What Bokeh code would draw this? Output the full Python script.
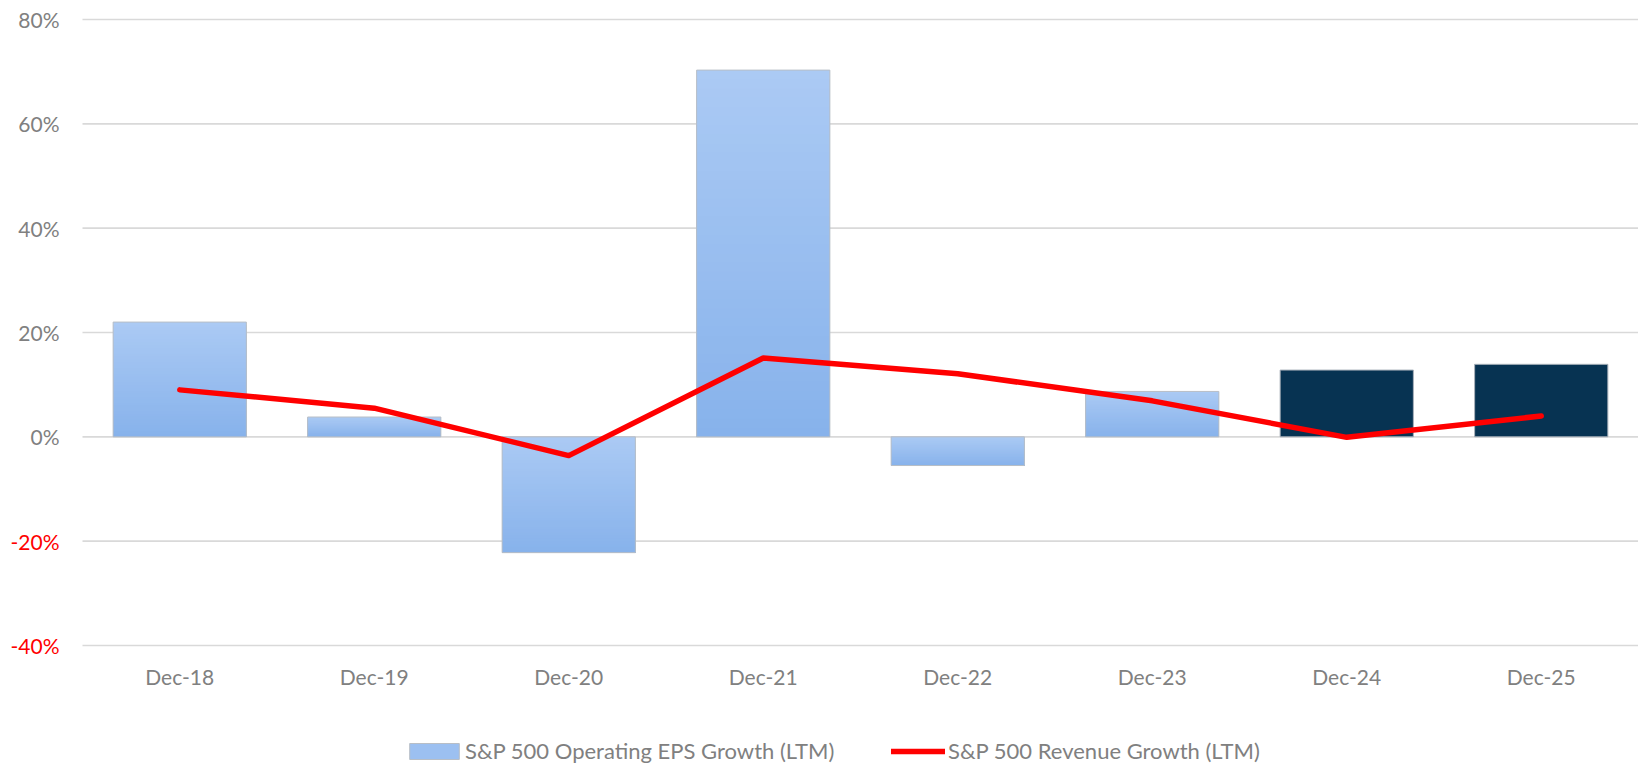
from bokeh.plotting import figure
from bokeh.models import Range1d, Legend, LegendItem
from bokeh.core.properties import value
from bokeh.embed import file_html
from bokeh.resources import INLINE

categories = ["Dec-18", "Dec-19", "Dec-20", "Dec-21", "Dec-22", "Dec-23", "Dec-24", "Dec-25"]
eps_growth = [22.0, 3.8, -22.2, 70.3, -5.5, 8.7, 12.8, 13.9]
revenue_growth = [9.0, 5.5, -3.6, 15.1, 12.1, 6.9, -0.1, 4.0]
is_estimate = [False, False, False, False, False, False, True, True]
yticks = [-40, -20, 0, 20, 40, 60, 80]
ytick_labels = ["-40%", "-20%", "0%", "20%", "40%", "60%", "80%"]

FONT = "Lato"
GRAY = "#808080"
LIGHT = (0xAB, 0xCA, 0xF4)
DARK = (0x87, 0xB2, 0xEB)
NAVY = "#073352"
BAR_W = 0.685

# canvas and plot-area geometry (pixels)
W, H = 1638, 768
PL, PR, PT, PB = 82, 1638, 19, 645
n = len(categories)
ymin, ymax = yticks[0], yticks[-1]
sx = (PR - PL) / n
sy = (PB - PT) / (ymax - ymin)
x_range = Range1d(-PL / sx, n + (W - PR) / sx)
y_range = Range1d(ymin - (H - PB) / sy, ymax + PT / sy)

p = figure(width=W, height=H, output_backend="svg", toolbar_location=None,
           x_range=x_range, y_range=y_range, x_axis_type=None, y_axis_type=None,
           min_border=0)
p.outline_line_color = None
p.background_fill_color = "white"

xs = [i + 0.5 for i in range(n)]

# horizontal gridlines
p.segment(x0=[0] * len(yticks), x1=[n] * len(yticks), y0=yticks, y1=yticks,
          line_color="#d9d9d9", line_width=1.6)

# gradient bars (light at top, darker at bottom): nested bars, tallest first
N = 40
seg_x, seg_top, seg_bot, seg_col = [], [], [], []
for x, v, est in zip(xs, eps_growth, is_estimate):
    if est:
        continue
    b, t = min(0, v), max(0, v)
    for k in range(N - 1, -1, -1):
        f = (k + 0.5) / N
        c = tuple(int(round(DARK[j] + (LIGHT[j] - DARK[j]) * f)) for j in range(3))
        seg_x.append(x)
        seg_bot.append(b)
        seg_top.append(b + (t - b) * (k + 1) / N)
        seg_col.append("#%02x%02x%02x" % c)
p.vbar(x=seg_x, top=seg_top, bottom=seg_bot, width=BAR_W, fill_color=seg_col, line_color=None)

act_x = [x for x, e in zip(xs, is_estimate) if not e]
act_v = [v for v, e in zip(eps_growth, is_estimate) if not e]
p.vbar(x=act_x, top=act_v, bottom=0, width=BAR_W, fill_color=None,
       line_color="#b8bec6", line_width=1)

est_x = [x for x, e in zip(xs, is_estimate) if e]
est_v = [v for v, e in zip(eps_growth, is_estimate) if e]
p.vbar(x=est_x, top=est_v, bottom=0, width=BAR_W, fill_color=NAVY,
       line_color="#a9b1ba", line_width=1)

line = p.line(xs, revenue_growth, line_color="#ff0000", line_width=5.5,
              line_cap="round", line_join="round")

legend_bar = p.vbar(x=[xs[0]], top=[0], bottom=[0], width=0, fill_color="#9cc0f1",
                    line_color="#b8bec6")

# y tick labels (negative values in red)
ycolors = ["#ff0000" if t < 0 else GRAY for t in yticks]
p.text(x=[0] * len(yticks), y=yticks, text=ytick_labels, x_offset=-23,
       text_align="right", text_baseline="middle", text_font=value(FONT),
       text_font_size=value("21px"), text_color=ycolors)

# x category labels
p.text(x=xs, y=[ymin] * n, text=categories, y_offset=31,
       text_align="center", text_baseline="middle", text_font=value(FONT),
       text_font_size=value("21px"), text_color=GRAY)

legend_style = dict(orientation="horizontal", padding=0, margin=0, border_line_color=None,
                    background_fill_alpha=0, label_text_font=FONT,
                    label_text_font_size="22px", label_text_color=GRAY, label_height=20)
legend1 = Legend(items=[LegendItem(label="S&P 500 Operating EPS Growth (LTM)",
                                   renderers=[legend_bar])],
                 location=(403, 4), glyph_width=62, glyph_height=20, label_standoff=0,
                 **legend_style)
legend2 = Legend(items=[LegendItem(label="S&P 500 Revenue Growth (LTM)", renderers=[line])],
                 location=(891, 4), glyph_width=54, glyph_height=20, label_standoff=3,
                 **legend_style)
p.add_layout(legend1, "center")
p.add_layout(legend2, "center")

open("out.html", "w").write(file_html(p, INLINE))
